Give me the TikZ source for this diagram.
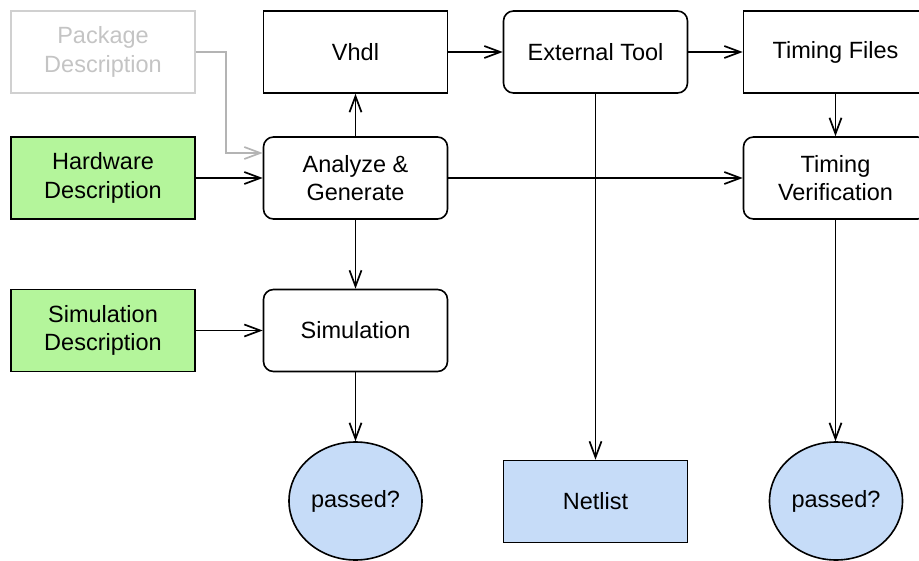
\documentclass[tikz,border=0pt]{standalone}
\usepackage{fontspec}
\setmainfont{Liberation Sans}
\usetikzlibrary{shapes.geometric,arrows.meta}
\definecolor{inputgreen}{HTML}{B4F59B}
\definecolor{outblue}{HTML}{C6DCF8}
\definecolor{pkgline}{HTML}{D0D0D0}
\definecolor{pkgtext}{HTML}{C4C4C4}
\definecolor{pkgarrow}{HTML}{B4B4B4}
\tikzset{
  every node/.style={font=\fontsize{23.5}{28.5}\selectfont, align=center, line width=1.6pt},
  plainbox/.style={draw, rectangle, minimum width=184pt, minimum height=82pt, inner sep=0pt},
  roundbox/.style={plainbox, rounded corners=10pt},
  inbox/.style={plainbox, fill=inputgreen},
  pkgbox/.style={plainbox, draw=pkgline, text=pkgtext, line width=1.3pt},
  outbox/.style={plainbox, fill=outblue},
  decision/.style={draw, ellipse, fill=outblue, minimum width=133pt, minimum height=118pt, inner sep=0pt},
  flow/.style={draw, line width=1.7pt, -{Straight Barb[length=16pt,width=12pt,line width=1.7pt]}},
  pkgflow/.style={flow, draw=pkgarrow}
}
\begin{document}
\begin{tikzpicture}[x=1pt, y=-1pt]
  \useasboundingbox (0,0) rectangle (919,561);

  % left column: descriptions
  \node[pkgbox] (pkg) at (103,52) {Package\\Description};
  \node[inbox] (hw) at (103,178) {Hardware\\Description};
  \node[inbox] (simdesc) at (103,330.5) {Simulation\\Description};

  % second column
  \node[plainbox] (vhdl) at (355.5,52) {Vhdl};
  \node[roundbox] (ana) at (355.5,178) {Analyze \&\\Generate};
  \node[roundbox] (sim) at (355.5,330.5) {Simulation};
  \node[decision] (pass1) at (355.5,501) {passed?};

  % third column
  \node[roundbox] (ext) at (595.5,52) {External Tool};
  \node[outbox] (net) at (595.5,501.5) {Netlist};

  % fourth column
  \node[plainbox] (tf) at (835.5,52) {Timing Files};
  \node[roundbox] (tv) at (835.5,178) {Timing\\Verification};
  \node[decision] (pass2) at (836,501) {passed?};

  % connectors
  \coordinate (pkgbend) at (226,52);
  \draw[pkgflow] (pkg.east) -- (pkgbend) |- ([yshift=25pt]ana.west);
  \draw[flow] (hw.east) -- (ana.west);
  \draw[flow] (simdesc.east) -- (sim.west);
  \draw[flow] (ana.north) -- (vhdl.south);
  \draw[flow] (ana.south) -- (sim.north);
  \draw[flow] (sim.south) -- (pass1.north);
  \draw[flow] (vhdl.east) -- (ext.west);
  \draw[flow] (ext.east) -- (tf.west);
  \draw[flow] (ext.south) -- (net.north);
  \draw[flow] (ana.east) -- (tv.west);
  \draw[flow] (tf.south) -- (tv.north);
  \draw[flow] (tv.south) -- (pass2.north -| tv.south);
\end{tikzpicture}
\end{document}
